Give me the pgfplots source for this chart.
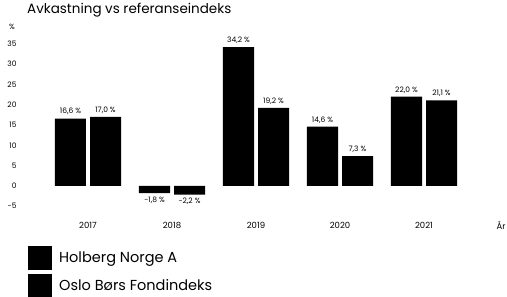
\documentclass[border=0pt]{standalone}
\usepackage{pgfplots}
\pgfplotsset{compat=1.18}
\usepackage{fontspec}
\setmainfont{Poppins}
\begin{document}
\begin{tikzpicture}
\useasboundingbox (0,0) rectangle (507bp,297bp);
\begin{axis}[
  at={(46bp,91bp)}, anchor=south west,
  scale only axis, width=420bp, height=162bp,
  xmin=-0.5, xmax=4.5, ymin=-5, ymax=35,
  ybar=4bp, bar width=31bp,
  xtick={0,1,2,3,4}, xticklabels={2017,2018,2019,2020,2021},
  ytick={-5,0,5,10,15,20,25,30,35},
  /pgf/number format/assume math mode=true,
  major tick length=0pt,
  axis line style={draw=none},
  xticklabel style={font=\fontsize{8.5bp}{9bp}\selectfont, yshift=-13bp},
  yticklabel style={font=\fontsize{7.5bp}{8bp}\selectfont, anchor=east, xshift=-26bp},
  nodes near coords={\pgfmathprintnumber[fixed,fixed zerofill,precision=1,use comma,assume math mode=true]{\pgfplotspointmeta} \%},
  every node near coord/.append style={font=\fontsize{7.5bp}{8bp}\selectfont, black},
  legend style={draw=none, fill=none, inner sep=0pt, row sep=4bp, at={(-0.0429,-0.247)}, anchor=north west,
    font=\fontsize{14.5bp}{16bp}\selectfont, nodes={inner xsep=7bp}},
  legend cell align=left,
  legend image code/.code={\fill[black] (0bp,-12bp) rectangle (24bp,12bp);},
]
\addplot[fill=black, draw=none] coordinates {(0,16.6) (1,-1.8) (2,34.2) (3,14.6) (4,22.0)};
\addplot[fill=black, draw=none] coordinates {(0,17.0) (1,-2.2) (2,19.2) (3,7.3) (4,21.1)};
\legend{Holberg Norge A, Oslo Børs Fondindeks}
\end{axis}
\node[anchor=west, inner sep=0pt, font=\fontsize{13.5bp}{15bp}\selectfont] at (27bp,287bp) {Avkastning vs referanseindeks};
\node[inner sep=0pt, font=\fontsize{7.5bp}{8bp}\selectfont] at (12bp,270bp) {\%};
\node[inner sep=0pt, font=\fontsize{8.5bp}{9bp}\selectfont] at (501bp,72bp) {År};
\end{tikzpicture}
\end{document}
